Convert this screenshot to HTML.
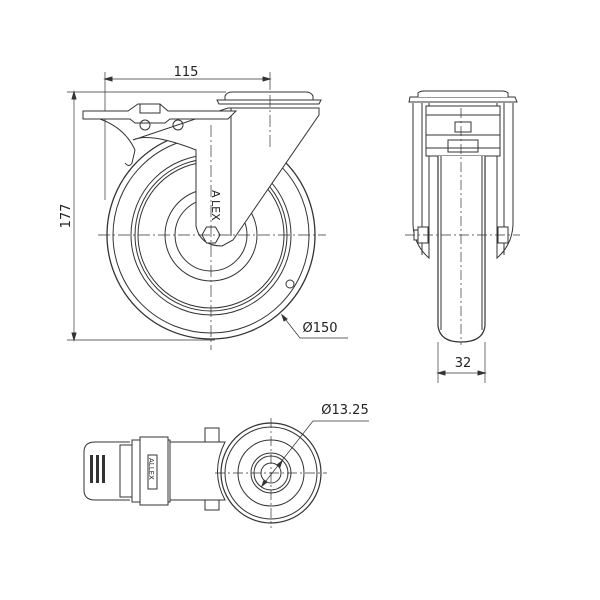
<!DOCTYPE html>
<html><head><meta charset="utf-8"><style>
html,body{margin:0;padding:0;background:#fff;}
svg{display:block}
text{font-family:"DejaVu Sans","Liberation Sans",sans-serif;fill:#222}
</style></head><body>
<svg width="600" height="600" viewBox="0 0 600 600" xmlns="http://www.w3.org/2000/svg">
<g fill="none" stroke="#333" stroke-width="1">
<!-- ===== FRONT VIEW ===== -->
<!-- dimension 115 -->
<line x1="105" y1="72" x2="105" y2="200" stroke-width="0.7"/>
<line x1="270" y1="72" x2="270" y2="90" stroke-width="0.7"/>
<line x1="105" y1="79" x2="270" y2="79" stroke-width="0.7"/>
<path d="M105 79 l7 -2 v4 z M270 79 l-7 -2 v4 z" fill="#333"/>
<!-- dimension 177 -->
<line x1="67" y1="92" x2="226" y2="92" stroke-width="0.7"/>
<line x1="67" y1="340" x2="215" y2="340" stroke-width="0.7"/>
<line x1="74" y1="92" x2="74" y2="340" stroke-width="0.7"/>
<path d="M74 92 l-2 7 h4 z M74 340 l-2 -7 h4 z" fill="#333"/>
<!-- wheel circles -->
<circle cx="211" cy="235" r="104" stroke-width="1.3"/>
<circle cx="211" cy="235" r="98"/>
<circle cx="211" cy="235" r="80"/>
<circle cx="211" cy="235" r="76"/>
<circle cx="211" cy="235" r="73"/>
<circle cx="211" cy="235" r="46"/>
<circle cx="211" cy="235" r="36"/>
<circle cx="290" cy="284" r="4"/>
<!-- fork (white fill covers wheel) -->
<path d="M133 140 Q150 132 196 150 L196 226 Q200 246 222 246 L233 240 L319 115 L319 108 L228 108 Z" fill="#fff" stroke="#333"/>
<line x1="231" y1="108" x2="231" y2="236"/>
<!-- hex nut -->
<polygon points="202,235 206.5,227 215.5,227 220,235 215.5,243 206.5,243" fill="#fff"/>
<!-- top plate -->
<path d="M225 103 L225 96 Q227 92 232 92 L306 92 Q311 92 313 96 L313 103" fill="#fff"/>
<path d="M217 100 L321 100 L319 104 L219 104 Z" fill="#fff"/>
<!-- brake lever -->
<path d="M83 111 L128 111 L138 104 L160 104 L168 111 L236 111 L228 119 L170 119 L165 123 L135 123 L130 119 L83 119 Z" fill="#fff"/>
<path d="M140 104 L140 113 L160 113 L160 104"/>
<path d="M100 119 Q125 128 135 150" />
<path d="M135 150 L132 163 Q129 168 125 163"/>
<circle cx="145" cy="125" r="5"/>
<circle cx="178" cy="125" r="5"/>
<text x="212" y="190" font-size="11" transform="rotate(90 212 190)" stroke="none">A</text>
<text x="212" y="200" font-size="11" transform="rotate(90 212 200)" stroke="none">LEX</text>
<!-- centerlines -->
<line x1="211" y1="125" x2="211" y2="350" stroke-width="0.7" stroke-dasharray="12 3 2 3"/>
<line x1="98" y1="235" x2="326" y2="235" stroke-width="0.7" stroke-dasharray="12 3 2 3"/>
<line x1="270" y1="95" x2="270" y2="150" stroke-width="0.7" stroke-dasharray="12 3 2 3"/>
<!-- Ø150 leader -->
<polyline points="282,315 300,338 348,338" stroke-width="0.7"/>
<path d="M282 315 l2 6 l3 -2 z" fill="#333"/>

<!-- ===== SIDE VIEW ===== -->
<path d="M413 103 L413 225 Q414 245 429 258 L429 103" />
<path d="M513 103 L513 225 Q512 245 497 258 L497 103" />
<path d="M422 103 V255 M504 103 V255"/>
<rect x="426" y="106" width="74" height="50" fill="#fff"/>
<line x1="426" y1="115" x2="500" y2="115"/>
<line x1="426" y1="135" x2="500" y2="135"/>
<line x1="426" y1="148" x2="500" y2="148"/>
<rect x="455" y="122" width="16" height="10"/>
<rect x="448" y="140" width="30" height="12"/>
<path d="M438 156 L438 326 Q440 342 461 342 Q483 342 485 326 L485 156" fill="#fff" stroke-width="1.2"/>
<path d="M441 156 V330 M482 156 V330"/>
<rect x="418" y="227" width="10" height="16" fill="#fff"/>
<rect x="498" y="227" width="10" height="16" fill="#fff"/>
<rect x="414" y="230" width="4" height="10" fill="#fff"/>
<path d="M409 102 L517 102 L515 97 L410 97 Z" fill="#fff"/>
<path d="M418 97 L418 93 Q420 91 424 91 L502 91 Q506 91 508 93 L508 97" fill="#fff"/>
<line x1="461" y1="108" x2="461" y2="345" stroke-width="0.7" stroke-dasharray="10 3 2 3"/>
<line x1="405" y1="235" x2="520" y2="235" stroke-width="0.7" stroke-dasharray="10 3 2 3"/>
<!-- dim 32 -->
<line x1="438" y1="342" x2="438" y2="383" stroke-width="0.7"/>
<line x1="485" y1="342" x2="485" y2="383" stroke-width="0.7"/>
<line x1="438" y1="373" x2="485" y2="373" stroke-width="0.7"/>
<path d="M438 373 l7 -2 v4 z M485 373 l-7 -2 v4 z" fill="#333"/>

<!-- ===== BOTTOM VIEW ===== -->
<path d="M130 442 L95 442 Q84 442 84 452 L84 490 Q84 500 95 500 L130 500" fill="#fff"/>
<rect x="90" y="455" width="3" height="28" fill="#333" stroke="none"/>
<rect x="96" y="455" width="3" height="28" fill="#333" stroke="none"/>
<rect x="102" y="455" width="3" height="28" fill="#333" stroke="none"/>
<rect x="120" y="445" width="20" height="52" fill="#fff"/>
<rect x="132" y="440" width="38" height="62" fill="#fff"/>
<rect x="140" y="437" width="28" height="68" fill="#fff"/>
<rect x="148" y="455" width="9" height="34" fill="#fff"/>
<text x="149" y="458" font-size="7" transform="rotate(90 149 458)" stroke="none">ALLEX</text>
<path d="M170 442 L225 442 Q210 472 225 500 L170 500 Z" fill="#fff"/>
<rect x="205" y="428" width="14" height="14" fill="#fff"/>
<rect x="205" y="500" width="14" height="10" fill="#fff"/>
<circle cx="271" cy="473" r="50" fill="#fff" stroke-width="1.2"/>
<circle cx="271" cy="473" r="46"/>
<circle cx="271" cy="473" r="33"/>
<circle cx="271" cy="473" r="20"/>
<circle cx="271" cy="473" r="17"/>
<circle cx="271" cy="473" r="10"/>
<line x1="271" y1="418" x2="271" y2="528" stroke-width="0.7" stroke-dasharray="10 3 2 3"/>
<line x1="215" y1="473" x2="327" y2="473" stroke-width="0.7" stroke-dasharray="10 3 2 3"/>
<polyline points="369,421 313,421 262,486" stroke-width="0.7"/>
<path d="M282 461 l-5 4 l3 2 z M262 486 l2 -6 l3 2 z" fill="#333"/>
</g>
<text x="186" y="76" font-size="13" text-anchor="middle">115</text>
<text x="70" y="216" font-size="13" text-anchor="middle" transform="rotate(-90 70 216)">177</text>
<text x="320" y="332" font-size="13" text-anchor="middle">Ø150</text>
<text x="463" y="367" font-size="13" text-anchor="middle">32</text>
<text x="345" y="414" font-size="13" text-anchor="middle">Ø13.25</text>
</svg>
</body></html>
